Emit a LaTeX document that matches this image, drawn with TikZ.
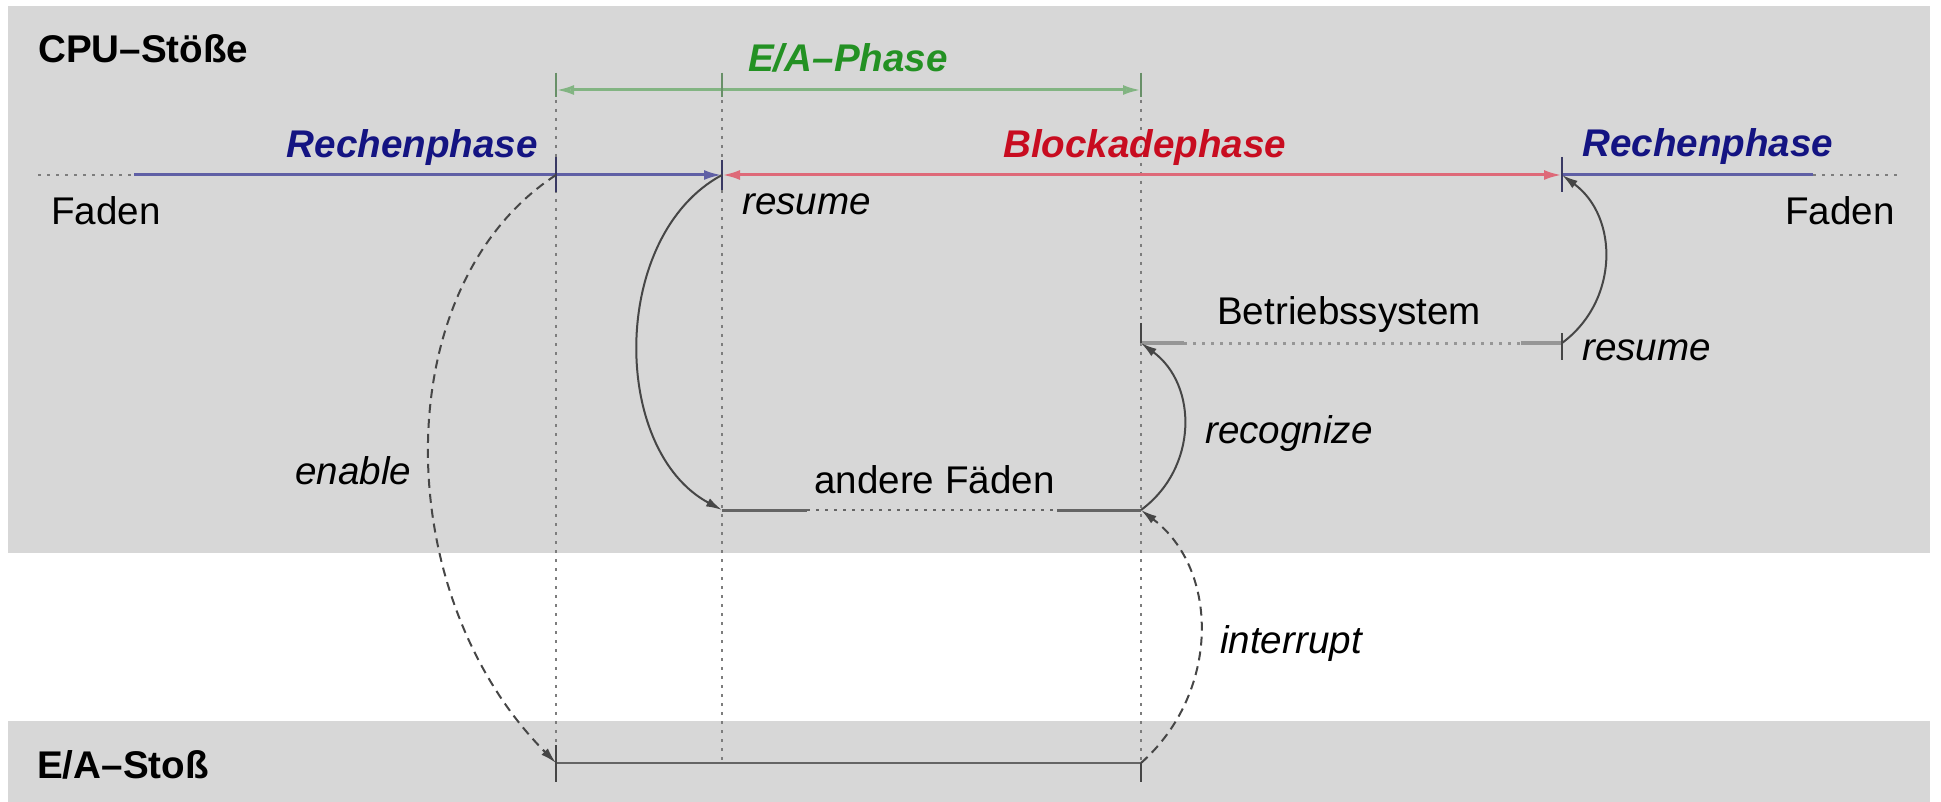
\documentclass[tikz,border=0pt]{standalone}
\usepackage{fontspec}
\setmainfont{Liberation Sans}
\usetikzlibrary{arrows.meta}
\definecolor{bggray}{RGB}{215,215,215}
\definecolor{txtblue}{RGB}{20,20,130}
\definecolor{lnblue}{RGB}{95,95,165}
\definecolor{txtred}{RGB}{200,12,32}
\definecolor{lnred}{RGB}{222,105,120}
\definecolor{txtgreen}{RGB}{35,145,35}
\definecolor{lngreen}{RGB}{130,180,130}
\definecolor{curvegray}{RGB}{70,70,70}
\definecolor{guidegray}{RGB}{125,125,125}
\definecolor{osgray}{RGB}{150,150,150}
\definecolor{othgray}{RGB}{100,100,100}
\begin{document}
\begin{tikzpicture}[x=1pt,y=-1pt,
  lbl/.style={inner sep=0pt, font=\fontsize{38.6}{40}\selectfont},
  ital/.style={inner sep=0pt, font=\fontsize{38.6}{40}\selectfont\itshape},
  boldlbl/.style={inner sep=0pt, font=\fontsize{38.6}{40}\selectfont\bfseries},
  bolditlbl/.style={inner sep=0pt, font=\fontsize{38.6}{40}\selectfont\bfseries\itshape},
  guideline/.style={guidegray, line width=2, dash pattern=on 3 off 6},
  tickmark/.style={line width=2.2},
  flowarc/.style={curvegray, line width=2, -{Latex[length=16,width=9]}},
  dasharc/.style={flowarc, dash pattern=on 9 off 6},
  solidtips/.style={{Latex[length=18,width=10]}-{Latex[length=18,width=10]}},
  endtip/.style={-{Latex[length=18,width=10]}},
  opentips/.style={{Latex[open,length=18,width=10]}-{Latex[open,length=18,width=10]}}
]
\useasboundingbox (0,0) rectangle (1941,802);
% bands
\fill[bggray] (8,6) rectangle (1930,553);
\fill[bggray] (8,721) rectangle (1930,802);

% key coordinates
\coordinate (gA) at (556,90);
\coordinate (gB) at (722,90);
\coordinate (gC) at (1141,90);
\coordinate (fL) at (38,175);
\coordinate (fL2) at (134,175);
\coordinate (tA) at (556,175);
\coordinate (tB) at (722,175);
\coordinate (tC) at (1562,175);
\coordinate (fR2) at (1813,175);
\coordinate (fR) at (1899,175);
\coordinate (osA) at (1141,343);
\coordinate (osA2) at (1184,343);
\coordinate (osB2) at (1521,343);
\coordinate (osB) at (1562,343);
\coordinate (oA) at (722,510);
\coordinate (oA2) at (807,510);
\coordinate (oB2) at (1057,510);
\coordinate (oB) at (1141,510);
\coordinate (eA) at (556,763);
\coordinate (eB) at (1141,763);

% vertical guides
\draw[guideline] (556,73) -- (556,782);
\draw[guideline] (722,73) -- (722,763);
\draw[guideline] (1141,73) -- (1141,782);

% E/A phase bar
\draw[lngreen, line width=3, opentips] (gA) -- (gC);
\foreach \x in {556,722,1141} \draw[lngreen!80!black, tickmark] (\x,73) -- (\x,97);

% thread line
\draw[guidegray, line width=2.5, dash pattern=on 3 off 6] (fL) -- (fL2);
\draw[lnblue, line width=3, endtip] (fL2) -- (tB);
\draw[lnred, line width=3, solidtips] (tB) -- (tC);
\draw[lnblue, line width=3] (tC) -- (fR2);
\draw[guidegray, line width=2.5, dash pattern=on 3 off 6] (fR2) -- (fR);
\draw[lnblue!60!black, tickmark] (556,157) -- (556,192);
\draw[lnblue!60!black, tickmark] (722,160) -- (722,190);
\draw[lnblue!60!black, tickmark] (1562,157) -- (1562,192);

% Betriebssystem line
\draw[osgray, line width=4] (osA) -- (osA2);
\draw[osgray, line width=3, dash pattern=on 3 off 6] (osA2) -- (osB2);
\draw[osgray, line width=4] (osB2) -- (osB);
\draw[curvegray, tickmark] (1141,323) -- (1141,343);
\draw[curvegray, tickmark] (1562,333) -- (1562,360);

% andere Faeden line
\draw[othgray, line width=3] (oA) -- (oA2);
\draw[othgray, line width=2, dash pattern=on 3 off 6] (oA2) -- (oB2);
\draw[othgray, line width=3] (oB2) -- (oB);

% E/A burst line
\draw[othgray, line width=2.5] (eA) -- (eB);
\draw[curvegray, tickmark] (556,745) -- (556,782);
\draw[curvegray, tickmark] (1141,763) -- (1141,782);

% curves
\draw[flowarc] (tB) .. controls +(-112,60) and +(-112,-60) .. (oA);
\draw[dasharc] (tA) .. controls +(-169,110) and +(-169,-170) .. (eA);
\draw[flowarc] (osB) .. controls +(57,-42) and +(57,42) .. (tC);
\draw[flowarc] (oB) .. controls +(57,-42) and +(57,42) .. (osA);
\draw[dasharc] (eB) .. controls +(79,-70) and +(79,60) .. (oB);

% labels
\node[boldlbl, anchor=base west] (cpu) at (38,63) {CPU--Stöße};
\node[boldlbl, anchor=base west] (eas) at (37,778) {E/A--Stoß};
\node[bolditlbl, txtgreen, anchor=base west] (eaph) at (748,72) {E/A--Phase};
\node[bolditlbl, txtblue, anchor=base east] (rp1) at (538,158) {Rechenphase};
\node[bolditlbl, txtred, anchor=base west] (bp) at (1003,158) {Blockadephase};
\node[bolditlbl, txtblue, anchor=base west] (rp2) at (1582,157) {Rechenphase};
\node[lbl, anchor=base west] (fd1) at (51,225) {Faden};
\node[lbl, anchor=base east] (fd2) at (1895,225) {Faden};
\node[ital, anchor=base west] (res1) at (742,215) {resume};
\node[lbl, anchor=base west] (bs) at (1217,325) {Betriebssystem};
\node[ital, anchor=base west] (res2) at (1582,360) {resume};
\node[ital, anchor=base west] (rec) at (1205,443) {recognize};
\node[lbl, anchor=base west] (af) at (814,493) {andere Fäden};
\node[ital, anchor=base west] (en) at (295,484) {enable};
\node[ital, anchor=base west] (intr) at (1220,653) {interrupt};
\end{tikzpicture}
\end{document}
